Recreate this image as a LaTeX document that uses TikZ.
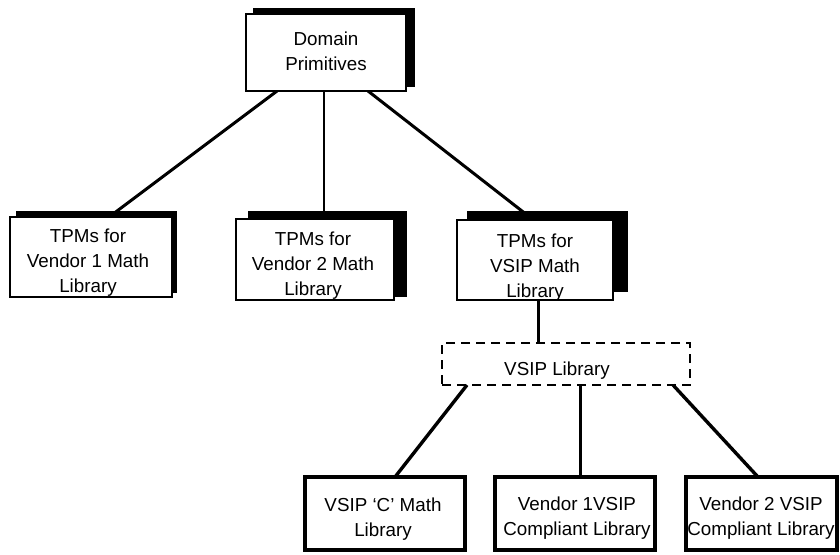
\documentclass[tikz,border=0pt]{standalone}
\usepackage{fontspec}
\setmainfont{Liberation Sans}
\usetikzlibrary{backgrounds}
\begin{document}
\begin{tikzpicture}[x=1pt,y=-1pt]
\tikzset{
 box/.style={draw, line width=1.6pt, fill=white, inner sep=0pt, outer sep=0pt, anchor=north west},
 boldbox/.style={draw, line width=4pt, fill=white, inner sep=0pt, outer sep=0pt, anchor=north west, minimum width=160pt, minimum height=73pt},
 dashbox/.style={draw, line width=2.2pt, dash pattern=on 9pt off 6pt, inner sep=0pt, outer sep=0pt, anchor=north west},
 txt/.style={align=center, font=\fontsize{18.8}{25}\selectfont, inner sep=0pt},
 link/.style={line width=3pt},
 shadowfill/.style={fill=black}
}
\useasboundingbox (0,0) rectangle (840,554);
% boxes
\node[box, minimum width=160pt, minimum height=77pt] (top) at (246,14) {};
\node[txt] (topt) at (326,51) {Domain\\Primitives};
\node[box, minimum width=162pt, minimum height=80pt] (b1) at (10,217) {};
\node[txt] (b1t) at (88,263) {TPMs for\\Vendor 1 Math\\Library};
\node[box, minimum width=158pt, minimum height=81pt] (b2) at (236,219) {};
\node[txt] (b2t) at (313,266) {TPMs for\\Vendor 2 Math\\Library};
\node[box, minimum width=156pt, minimum height=80pt] (b3) at (457,220) {};
\node[txt] (b3t) at (535,268) {TPMs for\\VSIP Math\\Library};
\node[dashbox, minimum width=248pt, minimum height=42pt] (vsip) at (442,343) {};
\node[txt] (vsipt) at (557,371) {VSIP Library};
\node[boldbox] (ca) at (305,477) {};
\node[txt] (cat) at (383,519) {VSIP ‘C’ Math\\Library};
\node[boldbox] (cb) at (495,477) {};
\node[txt] (cbt) at (577,518) {Vendor 1VSIP\\Compliant Library};
\node[boldbox, minimum width=151pt] (cc) at (686,477) {};
\node[txt] (cct) at (761,518) {Vendor 2 VSIP\\Compliant Library};
\begin{pgfonlayer}{background}
% connectors
\draw[link] ([xshift=31pt]top.south west) -- ([xshift=99pt]b1.north west);
\draw[link, line width=2.6pt] ([xshift=78pt]top.south west) -- ([xshift=88pt]b2.north west);
\draw[link] ([xshift=122pt]top.south west) -- ([xshift=76.5pt]b3.north west);
\draw[link] ([xshift=81pt]b3.south west) -- ([xshift=96pt]vsip.north west);
\draw[link, line width=3.4pt] ([xshift=25pt]vsip.south west) -- ([xshift=90pt]ca.north west);
\draw[link] ([xshift=138pt]vsip.south west) -- ([xshift=85pt]cb.north west);
\draw[link, line width=3.4pt] ([xshift=231pt]vsip.south west) -- ([xshift=72pt]cc.north west);
% shadows
\fill[shadowfill] (253,8) rectangle (415,87);
\fill[shadowfill] (16,211) rectangle (177,293);
\fill[shadowfill] (248,211) rectangle (407,297);
\fill[shadowfill] (467,211) rectangle (628,292);
\end{pgfonlayer}
\end{tikzpicture}
\end{document}
